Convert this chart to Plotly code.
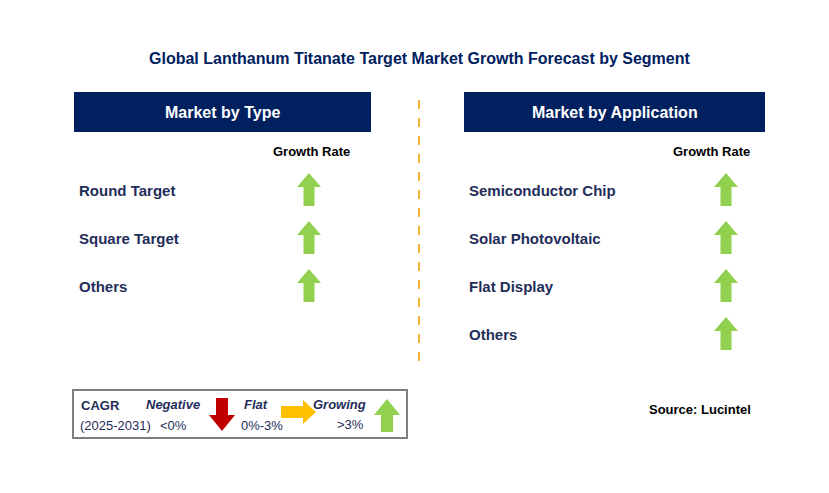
import plotly.graph_objects as go

title = "Global Lanthanum Titanate Target Market Growth Forecast by Segment"
type_labels = ["Round Target", "Square Target", "Others"]
type_trend = ["up", "up", "up"]
app_labels = ["Semiconductor Chip", "Solar Photovoltaic", "Flat Display", "Others"]
app_trend = ["up", "up", "up", "up"]
row_y = [190, 238, 286, 334]

NAVY = "#002060"
TXT = "#1F2D5A"
GREEN = "#92D050"
RED = "#C00000"
YEL = "#FFC000"
F = "Liberation Sans"

fig = go.Figure()
shapes = []
ann = []

def up_arrow(cx, top, bot, w=24, sw=11, hh=14, col=GREEN):
    return dict(type="path", xref="x", yref="y", fillcolor=col, line=dict(width=0),
                path=f"M {cx} {top} L {cx+w/2} {top+hh} L {cx+sw/2} {top+hh} L {cx+sw/2} {bot} "
                     f"L {cx-sw/2} {bot} L {cx-sw/2} {top+hh} L {cx-w/2} {top+hh} Z")

def down_arrow(cx, top, bot, w=24, sw=11, hh=14, col=RED):
    return dict(type="path", xref="x", yref="y", fillcolor=col, line=dict(width=0),
                path=f"M {cx} {bot} L {cx+w/2} {bot-hh} L {cx+sw/2} {bot-hh} L {cx+sw/2} {top} "
                     f"L {cx-sw/2} {top} L {cx-sw/2} {bot-hh} L {cx-w/2} {bot-hh} Z")

def right_arrow(left, right, cy, h=22, sh=12, hw=12, col=YEL):
    return dict(type="path", xref="x", yref="y", fillcolor=col, line=dict(width=0),
                path=f"M {right} {cy} L {right-hw} {cy-h/2} L {right-hw} {cy-sh/2} L {left} {cy-sh/2} "
                     f"L {left} {cy+sh/2} L {right-hw} {cy+sh/2} L {right-hw} {cy+h/2} Z")

def txt(x, y, s, size=14, color=TXT, bold=True, italic=False, anchor="left"):
    t = s
    if bold: t = f"<b>{t}</b>"
    if italic: t = f"<i>{t}</i>"
    ann.append(dict(x=x, y=y, xref="x", yref="y", text=t, showarrow=False, xanchor=anchor,
                    yanchor="middle", font=dict(family=F, size=size, color=color)))

txt(420, 58, title, size=16, color=NAVY, anchor="center")

for (x0, x1, lab) in [(74, 371, "Market by Type"), (464, 765, "Market by Application")]:
    shapes.append(dict(type="rect", xref="x", yref="y", x0=x0, x1=x1, y0=92, y1=132,
                       fillcolor=NAVY, line=dict(width=0)))
    txt((x0 + x1) / 2, 112, lab, size=16, color="white", anchor="center")

shapes.append(dict(type="line", xref="x", yref="y", x0=419, x1=419, y0=100, y1=365,
                   line=dict(color="#F5B335", width=2, dash="dash")))

txt(311, 151, "Growth Rate", size=13, color="black", anchor="center")
txt(711, 151, "Growth Rate", size=13, color="black", anchor="center")

for i, (lab, tr) in enumerate(zip(type_labels, type_trend)):
    txt(77, row_y[i], lab, size=15)
    shapes.append(up_arrow(309, row_y[i] - 17, row_y[i] + 16))
for i, (lab, tr) in enumerate(zip(app_labels, app_trend)):
    txt(467, row_y[i], lab, size=15)
    shapes.append(up_arrow(726, row_y[i] - 17, row_y[i] + 16))

# legend box
shapes.append(dict(type="rect", xref="x", yref="y", x0=73, x1=407, y0=390, y1=438,
                   fillcolor="white", line=dict(color="#7F7F7F", width=2)))
txt(79, 405, "CAGR", size=13)
txt(78, 425, "(2025-2031)", size=13, bold=False)
txt(173, 404, "Negative", size=13, italic=True, anchor="center")
txt(173, 425, "<0%", size=13, bold=False, anchor="center")
shapes.append(down_arrow(222, 398, 431, w=26, sw=12, hh=16))
txt(256, 404, "Flat", size=13, italic=True, anchor="center")
txt(262, 425, "0%-3%", size=13, bold=False, anchor="center")
shapes.append(right_arrow(281, 316, 412, h=24, sh=12, hw=13))
txt(339, 404, "Growing", size=13, italic=True, anchor="center")
txt(350, 424, ">3%", size=13, bold=False, anchor="center")
shapes.append(up_arrow(387, 399, 432, w=26, sw=12, hh=16))

txt(700, 409, "Source: Lucintel", size=13, color="black", anchor="center")

fig.update_layout(width=829, height=493, margin=dict(l=0, r=0, t=0, b=0),
                  paper_bgcolor="white", plot_bgcolor="white", shapes=shapes, annotations=ann,
                  xaxis=dict(range=[8, 837], visible=False, fixedrange=True),
                  yaxis=dict(range=[501, 8], visible=False, fixedrange=True),
                  showlegend=False)
fig.write_html("out.html")
